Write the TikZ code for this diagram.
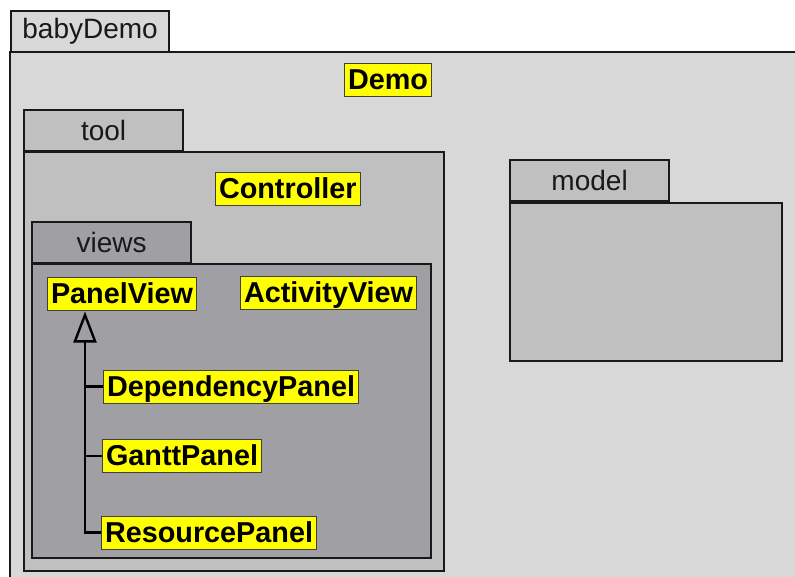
\documentclass[tikz,border=0pt]{standalone}
\usepackage{fontspec}
\setmainfont{Liberation Sans}
\usetikzlibrary{arrows.meta,calc}

\definecolor{pkgA}{RGB}{217,216,217}
\definecolor{pkgB}{RGB}{192,192,192}
\definecolor{pkgC}{RGB}{160,159,164}
\definecolor{clsfill}{RGB}{255,255,0}

\tikzset{
  frame/.style={draw=black!90, line width=2.2pt},
  tab/.style={frame, anchor=north west, inner sep=0pt, minimum height=41pt,
    text=black!90, font=\fontsize{28}{30}\selectfont},
  pkgbody/.style={frame, anchor=north west, inner sep=0pt},
  cls/.style={fill=clsfill, draw=black!75, line width=1pt, anchor=west,
    inner xsep=3.5pt, inner ysep=0pt, minimum height=33pt,
    text height=23pt, text depth=4pt,
    font=\fontsize{28.8}{30}\selectfont\bfseries},
  gen/.style={line width=2.8pt, -{Triangle[open, length=31pt, width=23pt, line width=2.4pt]}},
  branch/.style={line width=2.2pt}
}

\begin{document}
\begin{tikzpicture}[x=1pt, y=-1pt]
\useasboundingbox (0,0) rectangle (795,577);
\clip (0,0) rectangle (795,577);
\fill[white] (0,0) rectangle (795,577);

% package babyDemo (runs past the right and bottom edges)
\node[tab, fill=pkgA, minimum width=158pt] (bdtab) at (10,10) {babyDemo};
\fill[pkgA] (10,52) rectangle (820,600);
\draw[frame] (820,52) -- (10,52) -- (10,600);
\node[cls] (demo) at (344,80.5) {Demo};

% package tool
\node[tab, fill=pkgB, minimum width=159pt] (tooltab) at (23,109) {tool};
\node[pkgbody, fill=pkgB, minimum width=420pt, minimum height=419pt] (toolbody) at (23,151) {};
\node[cls] (ctrl) at (215,189) {Controller};

% package views
\node[tab, fill=pkgC, minimum width=159pt] (viewstab) at (31,221) {views};
\node[pkgbody, fill=pkgC, minimum width=399pt, minimum height=294pt] (viewsbody) at (31,263) {};

% package model
\node[tab, fill=pkgB, minimum width=159pt] (modeltab) at (509,159) {model};
\node[pkgbody, fill=pkgB, minimum width=272pt, minimum height=158pt] (modelbody) at (509,202) {};

% classes in views
\node[cls] (pv) at (47,294.5) {PanelView};
\node[cls] (av) at (240,293.5) {ActivityView};
\node[cls] (dp) at (103,386.5) {DependencyPanel};
\node[cls] (gp) at (102,456) {GanttPanel};
\node[cls] (rp) at (101,532.5) {ResourcePanel};

% generalization tree towards PanelView
\coordinate (trunk) at ($(pv.south west)+(38,0)$);
\draw[gen] (rp.west) -| (trunk);
\draw[branch] (dp.west) -- (dp.west -| trunk);
\draw[branch] (gp.west) -- (gp.west -| trunk);
\end{tikzpicture}
\end{document}
